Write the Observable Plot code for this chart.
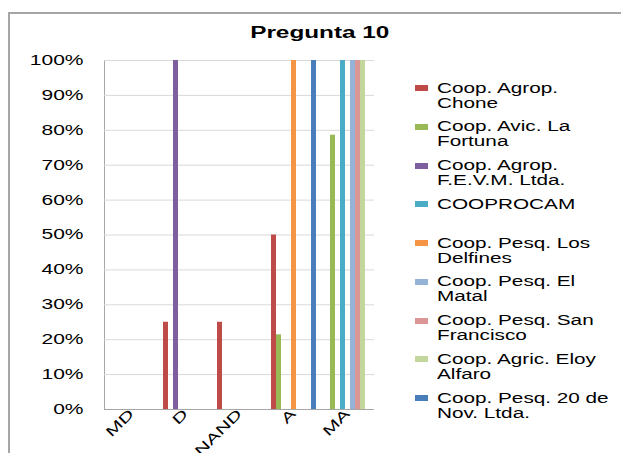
<!DOCTYPE html>
<html>
<head>
<meta charset="utf-8">
<script src="https://cdn.jsdelivr.net/npm/d3@7"></script>
<script src="https://cdn.jsdelivr.net/npm/@observablehq/plot@0.6"></script>
<style>
  html, body { margin: 0; padding: 0; background: #fff; overflow: hidden; }
  #wrap { position: relative; width: 621px; height: 453px; font-family: "Liberation Sans", Arial, sans-serif; }
  #frame { position: absolute; left: 8px; top: 12px; width: 700px; height: 500px; border-left: 2px solid #a6a6a6; border-top: 2px solid #a6a6a6; }
  #title { position: absolute; left: 0; top: 24px; width: 640px; text-align: center; font-weight: bold; font-size: 16px; line-height: 18px; }
  #title span { display: inline-block; transform: scaleX(1.52); }
  #chart { position: absolute; left: 0; top: 47px; }
  .lg-sw { position: absolute; width: 13px; height: 6px; }
  .lg-tx { position: absolute; font-size: 14px; line-height: 15px; white-space: nowrap; transform: scaleX(1.48); transform-origin: left top; color: #000; }
</style>
</head>
<body>
<div id="wrap">
  <div id="frame"></div>
  <div id="title"><span>Pregunta 10</span></div>
  <div id="chart"></div>
  <div id="legend"></div>
</div>
<script>
const title = "Pregunta 10";
const categories = ["MD", "D", "NAND", "A", "MA"];
const series = [
  "Coop. Agrop. Chone",
  "Coop. Avic. La Fortuna",
  "Coop. Agrop. F.E.V.M. Ltda.",
  "COOPROCAM",
  "Coop. Pesq. Los Delfines",
  "Coop. Pesq. El Matal",
  "Coop. Pesq. San Francisco",
  "Coop. Agric. Eloy Alfaro",
  "Coop. Pesq. 20 de Nov. Ltda."
];
const legendLabels = [
  ["Coop. Agrop.", "Chone"],
  ["Coop. Avic. La", "Fortuna"],
  ["Coop. Agrop.", "F.E.V.M. Ltda."],
  ["COOPROCAM"],
  ["Coop. Pesq. Los", "Delfines"],
  ["Coop. Pesq. El", "Matal"],
  ["Coop. Pesq. San", "Francisco"],
  ["Coop. Agric. Eloy", "Alfaro"],
  ["Coop. Pesq. 20 de", "Nov. Ltda."]
];
const colors = ["#BE4B48", "#98B954", "#7D5FA0", "#4BACC6", "#F59444", "#95B3D7", "#D99694", "#C3D69B", "#4A7EBB"];
// values per series, in category order MD, D, NAND, A, MA
const chone        = [0, 0.25, 0.25, 0.50, 0];
const laFortuna    = [0, 0, 0, 0.214, 0.786];
const fevm         = [0, 1, 0, 0, 0];
const cooprocam    = [0, 0, 0, 0, 1];
const delfines     = [0, 0, 0, 1, 0];
const elMatal      = [0, 0, 0, 0, 1];
const sanFrancisco = [0, 0, 0, 0, 1];
const eloyAlfaro   = [0, 0, 0, 0, 1];
const veinteNov    = [0, 0, 0, 1, 0];
const seriesValues = [chone, laFortuna, fevm, cooprocam, delfines, elMatal, sanFrancisco, eloyAlfaro, veinteNov];
const yTicks = [0, 0.1, 0.2, 0.3, 0.4, 0.5, 0.6, 0.7, 0.8, 0.9, 1];

const rows = [];
series.forEach((s, i) => categories.forEach((c, j) => rows.push({category: c, series: s, value: seriesValues[i][j]})));

const chart = Plot.plot({
  width: 400,
  height: 406,
  marginLeft: 103,
  marginRight: 25,
  marginTop: 13,
  marginBottom: 44,
  style: {fontFamily: "'Liberation Sans', Arial, sans-serif", fontSize: "14px", color: "#a6a6a6", background: "transparent", overflow: "visible"},
  facet: {data: rows, x: "category", marginBottom: 44},
  fx: {domain: categories, padding: 0, label: null, tickRotate: -45, tickSize: 0, tickPadding: 2},
  x: {domain: series, axis: null, paddingInner: 0, paddingOuter: 0.7},
  y: {domain: [0, 1], ticks: yTicks, tickFormat: d => Math.round(d * 100) + "%", tickSize: 0, tickPadding: 21, label: null, line: true},
  color: {domain: series, range: colors},
  marks: [
    Plot.ruleY(yTicks.slice(1), {stroke: "#d9d9d9", strokeWidth: 1}),
    Plot.barY(rows, {x: "series", y: "value", fill: "series", inset: 0}),
    Plot.ruleY([0], {stroke: "#a6a6a6", strokeWidth: 1})
  ]
});
document.getElementById("chart").appendChild(chart);
// stretch text horizontally like the reference and make it black
chart.querySelectorAll("text").forEach(t => {
  t.setAttribute("fill", "#000");
  t.style.fill = "#000";
  const len = t.getComputedTextLength();
  if (len > 0) {
    t.setAttribute("textLength", (len * 1.5).toFixed(2));
    t.setAttribute("lengthAdjust", "spacingAndGlyphs");
  }
});

const legend = document.getElementById("legend");
legendLabels.forEach((lines, i) => {
  const cy = 88 + 38.75 * i;
  const sw = document.createElement("div");
  sw.className = "lg-sw";
  sw.style.left = "415px";
  sw.style.top = (cy - 3) + "px";
  sw.style.background = colors[i];
  legend.appendChild(sw);
  const tx = document.createElement("div");
  tx.className = "lg-tx";
  tx.style.left = "437px";
  tx.style.top = (cy - 7.5) + "px";
  tx.innerHTML = lines.join("<br>");
  legend.appendChild(tx);
});
</script>
</body>
</html>
